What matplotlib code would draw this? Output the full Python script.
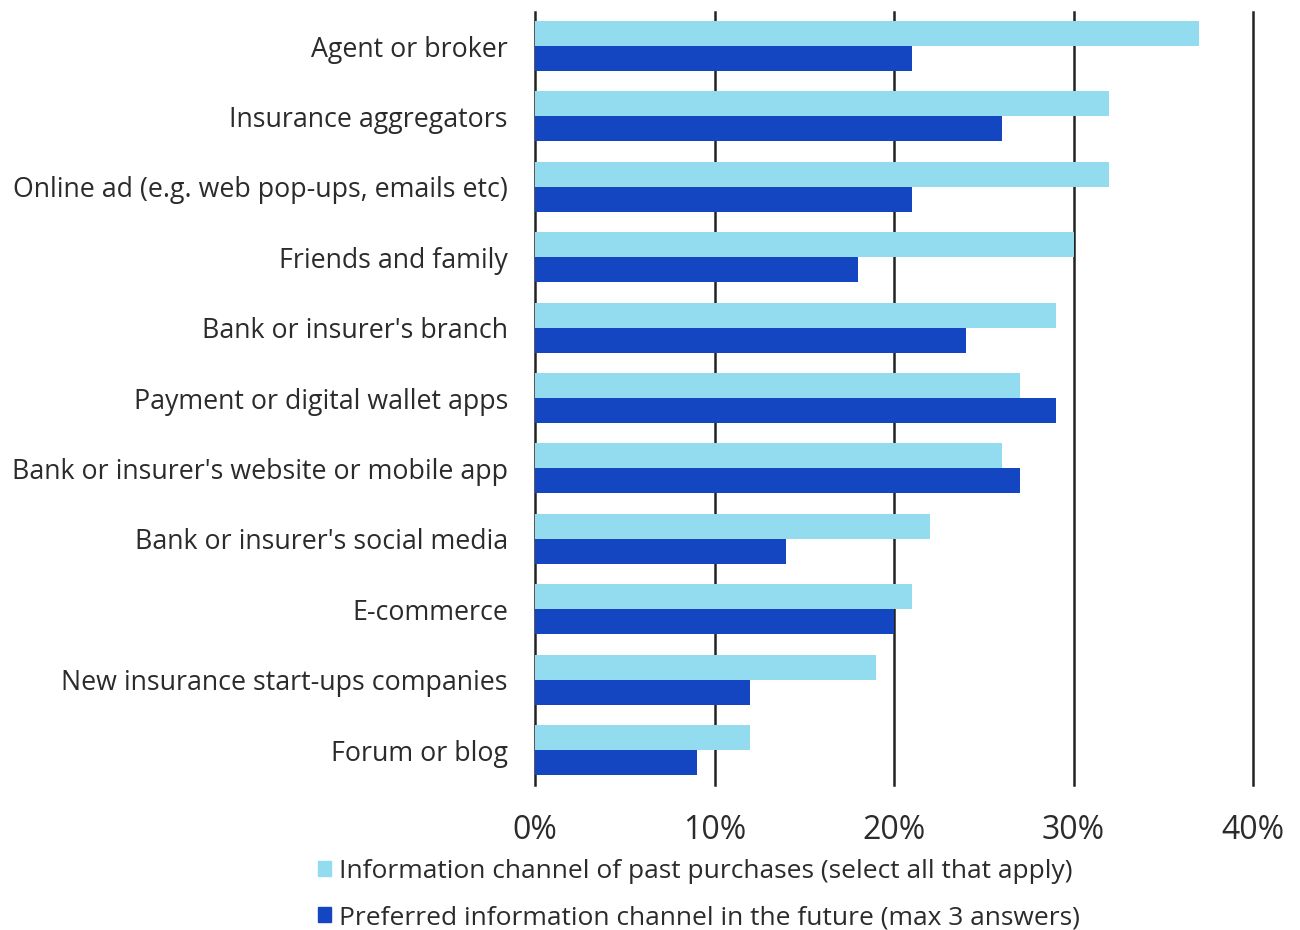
import matplotlib
matplotlib.use("Agg")
import matplotlib.pyplot as plt
import numpy as np
from matplotlib.patches import Patch

categories = [
    "Agent or broker",
    "Insurance aggregators",
    "Online ad (e.g. web pop-ups, emails etc)",
    "Friends and family",
    "Bank or insurer's branch",
    "Payment or digital wallet apps",
    "Bank or insurer's website or mobile app",
    "Bank or insurer's social media",
    "E-commerce",
    "New insurance start-ups companies",
    "Forum or blog",
]
past = [37, 32, 32, 30, 29, 27, 26, 22, 21, 19, 12]
future = [21, 26, 21, 18, 24, 29, 27, 14, 20, 12, 9]
xticks = [0, 10, 20, 30, 40]
xticklabels = ["0%", "10%", "20%", "30%", "40%"]
legend_labels = [
    "Information channel of past purchases (select all that apply)",
    "Preferred information channel in the future (max 3 answers)",
]

light = "#93dcf0"
dark = "#1346c0"
txt = "#2b2b2b"

plt.rcParams["font.family"] = ["Open Sans", "DejaVu Sans"]

fig = plt.figure(figsize=(13, 9.3), dpi=100)
ax = fig.add_axes([535/1300, 1-785/930, (1253-535)/1300, (785-12)/930])

n = len(categories)
y = np.arange(n)
h = 0.355
ax.barh(y - h/2, past, height=h, color=light, zorder=3)
ax.barh(y + h/2, future, height=h, color=dark, zorder=3)

ax.set_xlim(0, 40)
ax.set_ylim(10.497, -0.483)
for xv in xticks:
    ax.axvline(xv, color="#222222", lw=1.8, zorder=1, clip_on=False)

ax.set_xticks(xticks)
ax.set_xticklabels(xticklabels, fontsize=23, color=txt)
ax.set_yticks(y)
ax.set_yticklabels(categories, fontsize=19.3, color=txt)
ax.tick_params(axis="both", length=0)
ax.tick_params(axis="y", pad=19.5)
ax.tick_params(axis="x", pad=21)
for s in ax.spines.values():
    s.set_visible(False)

handles = [Patch(color=light), Patch(color=dark)]
fig.legend(handles, legend_labels, loc="upper left",
           bbox_to_anchor=(318/1300, 1-859/930), frameon=False,
           fontsize=19, labelcolor=txt, handlelength=0.5, handleheight=0.5,
           handletextpad=0.3, labelspacing=0.8, borderaxespad=0, borderpad=0)

fig.savefig("out.png", dpi=100, facecolor="white")
